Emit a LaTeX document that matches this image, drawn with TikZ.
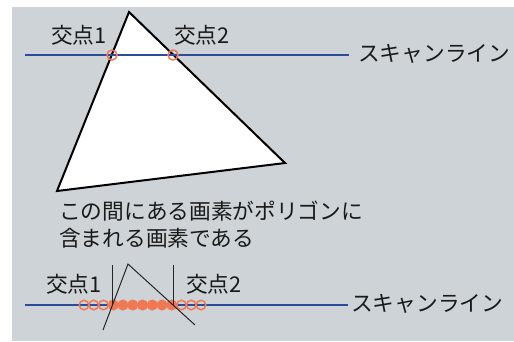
\documentclass[tikz,border=0pt]{standalone}
\usepackage{fontspec}
\newfontfamily\jpfont{Noto Sans CJK JP}
\definecolor{bggray}{RGB}{205,211,214}
\definecolor{scanblue}{RGB}{45,75,155}
\definecolor{pixorange}{RGB}{240,120,82}
\definecolor{txt}{RGB}{25,25,25}
\tikzset{
  lbl/.style={font=\jpfont\fontsize{21.7}{27}\selectfont, text=txt, inner sep=0pt},
  scan/.style={draw=scanblue, line width=1.4pt},
  hitcirc/.style={circle, draw=pixorange, line width=1.5pt, minimum size=10pt, inner sep=0pt},
  pixopen/.style={circle, draw=pixorange, line width=1.5pt, minimum size=9.5pt, inner sep=0pt},
  pixfull/.style={circle, draw=pixorange, fill=pixorange, line width=1.5pt, minimum size=9.5pt, inner sep=0pt},
  edge/.style={draw=black!85, line width=1pt}
}
\begin{document}
\begin{tikzpicture}[x=1pt, y=-1pt]
\useasboundingbox (0,0) rectangle (514,341);
\fill[white] (0,0) rectangle (514,341);
\fill[bggray] (12,7) rectangle (514,341);

% ---- top: triangle and scan line ----
\coordinate (A) at (129,12);
\coordinate (B) at (57,191);
\coordinate (C) at (285,163);
\draw[fill=white, draw=black, line width=2pt, line join=miter] (A) -- (B) -- (C) -- cycle;

\coordinate (s1a) at (25,55);
\coordinate (s1b) at (349,55);
\draw[scan] (s1a) -- (s1b);
\node[lbl, anchor=west] (scanlbl1) at (358,54) {スキャンライン};

\node[hitcirc] (h1) at (112,55) {};
\node[hitcirc] (h2) at (173,55) {};

\node[lbl] (k1) at (79,35) {交点1};
\node[lbl] (k2) at (202,35) {交点2};

% ---- middle text ----
\node[lbl, anchor=north west, align=left] (desc) at (59,201)
  {この間にある画素がポリゴンに\\含まれる画素である};

% ---- bottom: pixel row ----
\coordinate (s2a) at (25,305);
\coordinate (s2b) at (348,305);
\draw[scan] (s2a) -- (s2b);
\node[lbl, anchor=west] (scanlbl2) at (351,304) {スキャンライン};

\foreach \i in {0,1,2,10,11,12}{
  \node[pixopen] (p\i) at ({84+9.75*\i},305) {};
}
\foreach \i in {3,...,9}{
  \node[pixfull] (p\i) at ({84+9.75*\i},305) {};
}

\coordinate (v1t) at (112.7,265);
\coordinate (v1b) at (112.7,305);
\coordinate (v2t) at (173.3,265);
\coordinate (v2b) at (173.3,305);
\draw[edge] (v1t) -- (v1b);
\draw[edge] (v2t) -- (v2b);

\coordinate (ta) at (128,264);
\coordinate (tl) at (103,330);
\coordinate (tr) at (195,325);
\draw[edge] (tl) -- (ta) -- (tr);

\node[lbl] (k3) at (74,284) {交点1};
\node[lbl] (k4) at (214,284) {交点2};
\end{tikzpicture}
\end{document}
